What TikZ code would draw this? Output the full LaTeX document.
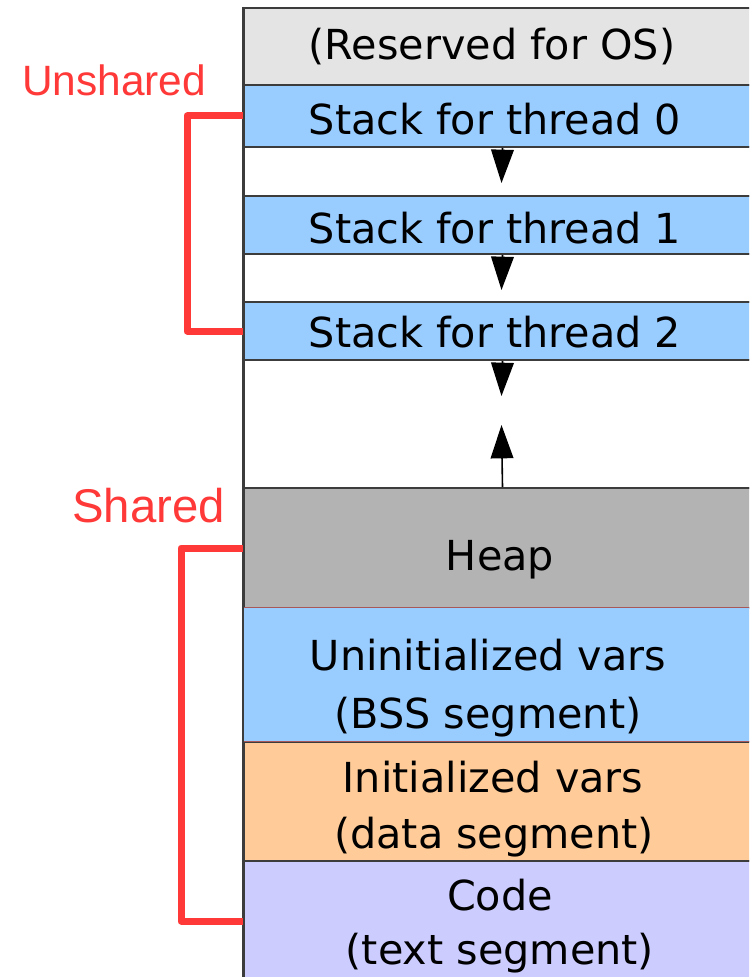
\documentclass[tikz,border=0pt]{standalone}
\usepackage{fontspec}
\setmainfont{DejaVu Sans}
\newfontfamily\tagfont{Liberation Sans}
\usetikzlibrary{arrows.meta}
\definecolor{osgray}{HTML}{E4E4E4}
\definecolor{stackblue}{HTML}{99CCFF}
\definecolor{heapgray}{HTML}{B3B3B3}
\definecolor{dataorange}{HTML}{FFCC99}
\definecolor{codeviolet}{HTML}{CCCCFF}
\definecolor{segline}{HTML}{3C3C3C}
\definecolor{bssline}{HTML}{A85858}
\definecolor{tagred}{HTML}{FF3838}
\newcommand{\pxu}{0.75pt}

\begin{document}
\begin{tikzpicture}[x=\pxu, y=-\pxu,
    seg/.style={draw=segline, line width=1.5pt, anchor=north west, inner sep=0pt, minimum width=517*\pxu},
    lbl/.style={anchor=base, inner sep=0pt, font=\fontsize{31pt}{37pt}\selectfont},
    growarrow/.style={line width=1.2pt, -{Triangle[length=25pt, width=17pt]}},
    bracket/.style={draw=tagred, line width=5.25pt, line join=round},
    tag/.style={anchor=base west, text=tagred, inner sep=0pt}]
        \useasboundingbox (0,0) rectangle (749,977);
        \fill[white] (0,0) rectangle (749,977);
        \clip (0,0) rectangle (749,977);
        % memory column
        \node[seg, fill=osgray, minimum height=77*\pxu] (os) at (243,7) {};
        \node[seg, fill=stackblue, minimum height=62*\pxu] (st0) at (243,84) {};
        \node[seg, fill=white, minimum height=49*\pxu] (gap0) at (243,146) {};
        \node[seg, fill=stackblue, minimum height=58*\pxu] (st1) at (243,195) {};
        \node[seg, fill=white, minimum height=48*\pxu] (gap1) at (243,253) {};
        \node[seg, fill=stackblue, minimum height=58*\pxu] (st2) at (243,301) {};
        \node[seg, fill=white, minimum height=128*\pxu] (free) at (243,359) {};
        \node[seg, fill=heapgray, minimum height=120*\pxu] (heap) at (243,487) {};
        \node[seg, fill=dataorange, minimum height=119*\pxu] (data) at (243,741) {};
        \node[seg, fill=codeviolet, minimum height=120*\pxu] (code) at (243,860) {};
        \node[seg, fill=stackblue, draw=bssline, line width=1pt, minimum height=134*\pxu] (bss) at (243,607) {};
        \draw[segline, line width=1.5pt] (243,7) -- (243,977);

        \node[lbl] (ostxt) at (492,60) {(Reserved for OS)};
        \node[lbl] (st0txt) at (495,135) {Stack for thread 0};
        \node[lbl] (st1txt) at (495,243) {Stack for thread 1};
        \node[lbl] (st2txt) at (495,347) {Stack for thread 2};
        \node[lbl] (heaptxt) at (500,570) {Heap};
        \node[lbl] (bsstxt1) at (488,670) {Uninitialized vars};
        \node[lbl] (bsstxt2) at (488,728) {(BSS segment)};
        \node[lbl] (datatxt1) at (493,792) {Initialized vars};
        \node[lbl] (datatxt2) at (494,848) {(data segment)};
        \node[lbl] (codetxt1) at (500,910) {Code};
        \node[lbl] (codetxt2) at (500,964) {(text segment)};

        % stacks grow down, heap grows up
        \coordinate (tip0) at (501.5,183);
        \coordinate (tip1) at (501.5,290);
        \coordinate (tip2) at (501.5,396);
        \coordinate (tip3) at (501.5,425);
        \draw[growarrow] (st0.south) -- (tip0);
        \draw[growarrow] (st1.south) -- (tip1);
        \draw[growarrow] (st2.south) -- (tip2);
        \draw[growarrow] (heap.north) -- (tip3);

        % brackets
        \node[tag, font=\tagfont\fontsize{31.8pt}{37pt}\selectfont] (unshared) at (22,96) {Unshared};
        \node[tag, font=\tagfont\fontsize{35.5pt}{41pt}\selectfont] (shared) at (72,522) {Shared};
        \draw[bracket] (st0.west) -- ++(-56,0) |- (st2.west);
        \draw[bracket] (heap.west) -- ++(-62,0) |- (code.west);
\end{tikzpicture}
\end{document}
